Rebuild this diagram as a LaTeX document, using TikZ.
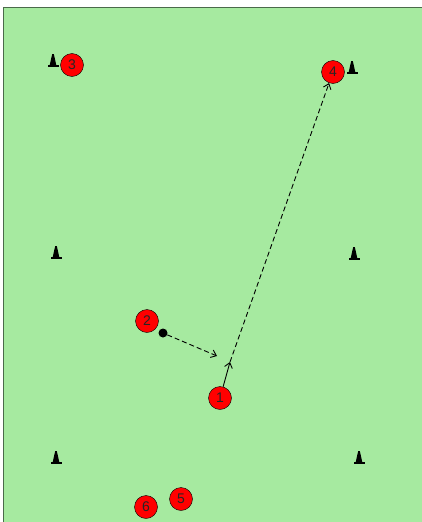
\documentclass[tikz,border=0pt]{standalone}
\usepackage{fontspec}
\setmainfont{Liberation Sans}
\usetikzlibrary{arrows.meta}
\definecolor{field}{HTML}{A6EAA0}
\definecolor{fieldline}{HTML}{4A6A4A}
\tikzset{
  player/.style={circle,draw=black,fill=red,minimum size=23pt,inner sep=0pt,font=\fontsize{14}{14}\selectfont,text=black!85},
  cone/.pic={\fill[black] (-3.5,0) -- (-0.8,-12) -- (0.8,-12) -- (3.5,0) -- cycle; \fill[black] (-5.5,-1) rectangle (5.5,1);},
  run/.style={dash pattern=on 5pt off 3pt,-{Straight Barb[length=5pt,width=8pt]}},
  pass/.style={-{Straight Barb[length=5pt,width=8pt]}},
}
\begin{document}
\begin{tikzpicture}[x=1pt,y=-1pt]
\useasboundingbox (0,0) rectangle (421,522);
\fill[field] (3,7) rectangle (425,526);
\draw[fieldline,line width=1pt] (3.5,526) -- (3.5,7.5) -- (425,7.5);
% cones
\pic at (53,66) {cone};
\pic at (352,73) {cone};
\pic at (56,258) {cone};
\pic at (354,259) {cone};
\pic at (56,463) {cone};
\pic at (359,463) {cone};
% players
\node[player] (p3) at (72,65) {3};
\node[player] (p4) at (333,72) {4};
\node[player] (p2) at (147,321) {2};
\node[player] (p1) at (220,398) {1};
\node[player] (p6) at (146,507) {6};
\node[player] (p5) at (181,499) {5};
\node[circle,fill=black,minimum size=9pt,inner sep=0pt] (ball) at (163,333) {};
\coordinate (b1) at (217,356);
\coordinate (r1) at (230,362);
\draw[run,line width=0.9pt] (ball) -- (b1);
\draw[pass,line width=0.9pt] (p1) -- (r1);
\draw[run,line width=0.9pt] (r1) -- (p4);
\end{tikzpicture}
\end{document}
